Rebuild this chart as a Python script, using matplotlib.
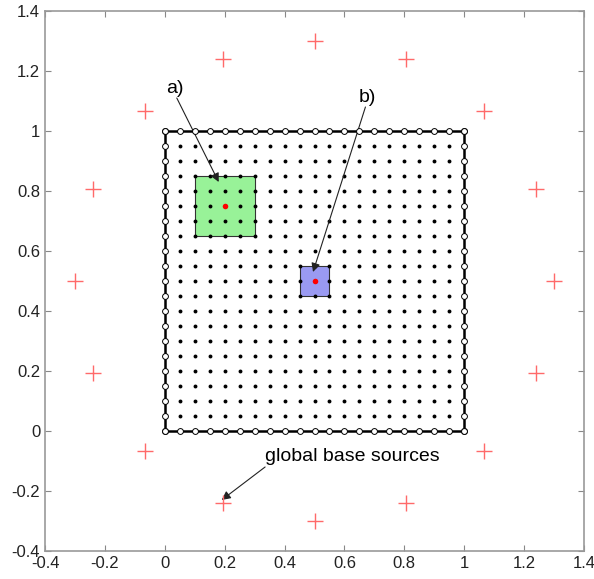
import numpy as np
import matplotlib
matplotlib.use("Agg")
import matplotlib.pyplot as plt
from matplotlib.patches import Rectangle

plt.rcParams['font.family'] = ['Liberation Sans', 'DejaVu Sans']

# Data
grid_step = 0.05
interior = np.arange(1, 20) * grid_step          # 0.05 ... 0.95
boundary = np.arange(0, 21) * grid_step          # 0 ... 1
source_center = (0.5, 0.5)
source_radius = 0.8
source_angles_deg = np.arange(0, 360, 22.5)
box_a = dict(x0=0.1, y0=0.65, w=0.2, h=0.2, cx=0.2, cy=0.75)
box_b = dict(x0=0.45, y0=0.45, w=0.1, h=0.1, cx=0.5, cy=0.5)
ticks = [-0.4, -0.2, 0, 0.2, 0.4, 0.6, 0.8, 1, 1.2, 1.4]
tick_labels = ['-0.4', '-0.2', '0', '0.2', '0.4', '0.6', '0.8', '1', '1.2', '1.4']

fig = plt.figure(figsize=(5.94, 5.79), dpi=100)
ax = fig.add_axes([0.0758, 0.0484, 0.9074, 0.9326])

# boxes
ax.add_patch(Rectangle((box_a['x0'], box_a['y0']), box_a['w'], box_a['h'],
                       facecolor='#98f298', edgecolor='#333333', lw=0.8, zorder=1))
ax.add_patch(Rectangle((box_b['x0'], box_b['y0']), box_b['w'], box_b['h'],
                       facecolor='#9a9af2', edgecolor='#333333', lw=0.8, zorder=1))

# interior dots
X, Y = np.meshgrid(interior, interior)
ax.plot(X.ravel(), Y.ravel(), 'o', color='black', ms=2.8, mew=0, zorder=3)

# boundary
ones = np.ones_like(boundary)
zeros = np.zeros_like(boundary)
bx = np.concatenate([boundary, ones, boundary[::-1], zeros])
by = np.concatenate([zeros, boundary, ones, boundary[::-1]])
ax.plot(bx, by, '-', color='black', lw=1.8, zorder=2)
ax.plot(bx, by, 'o', mfc='white', mec='black', ms=4.2, mew=0.7, zorder=4)

# centers
ax.plot([box_a['cx'], box_b['cx']], [box_a['cy'], box_b['cy']], 'o', color='red',
        ms=4, mew=0, zorder=5)

# global sources
ang = np.deg2rad(source_angles_deg)
sx = source_center[0] + source_radius * np.cos(ang)
sy = source_center[1] + source_radius * np.sin(ang)
ax.plot(sx, sy, '+', color='#ff6a6a', ms=12, mew=1.0, zorder=5)

# annotations
ap = dict(arrowstyle='-|>', color='#222222', lw=0.8, mutation_scale=13, shrinkA=0, shrinkB=0)
ax.annotate('', xy=(0.18, 0.83), xytext=(0.04, 1.11), arrowprops=ap)
ax.text(0.035, 1.112, 'a)', fontsize=14, ha='center', va='bottom')
ax.annotate('', xy=(0.495, 0.53), xytext=(0.67, 1.08), arrowprops=ap)
ax.text(0.675, 1.082, 'b)', fontsize=14, ha='center', va='bottom')
ax.annotate('', xy=(0.19, -0.23), xytext=(0.335, -0.12), arrowprops=ap)
ax.text(0.335, -0.115, 'global base sources', fontsize=14, ha='left', va='bottom')

ax.set_xlim(-0.4, 1.4)
ax.set_ylim(-0.4, 1.4)
ax.set_xticks(ticks)
ax.set_xticklabels(tick_labels)
ax.set_yticks(ticks)
ax.set_yticklabels(tick_labels)
ax.tick_params(direction='in', length=4, width=0.8, colors='#888888', labelcolor='#222222',
               labelsize=12, top=True, right=True, labeltop=False, labelright=False)
for s in ax.spines.values():
    s.set_color('#999999')
    s.set_linewidth(1.2)

fig.savefig('out.png', dpi=100)
